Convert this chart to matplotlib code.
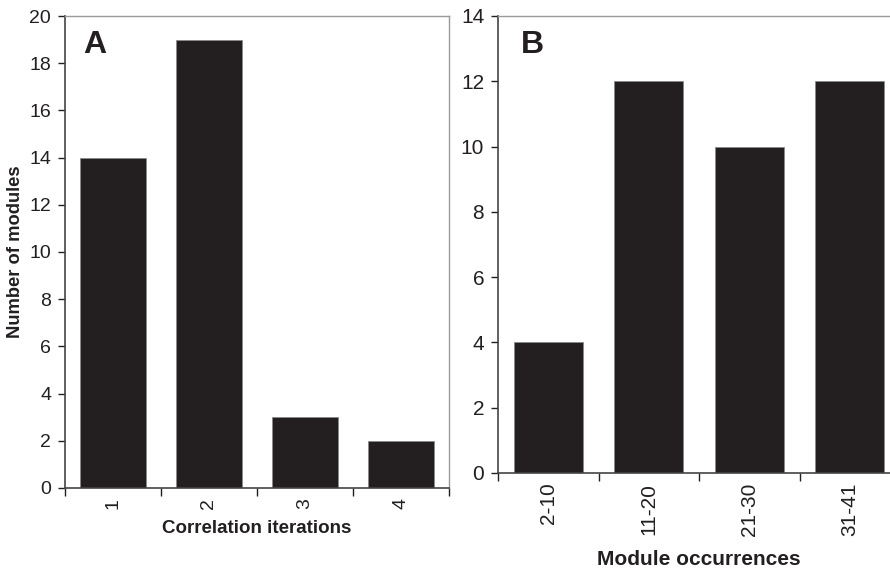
import matplotlib
matplotlib.use('Agg')
import matplotlib.pyplot as plt

plt.rcParams['font.family'] = ['Liberation Sans', 'DejaVu Sans']

# Panel A: modules per correlation iteration
iter_labels = ['1', '2', '3', '4']
iter_counts = [14, 19, 3, 2]

# Panel B: modules per occurrence range
occ_labels = ['2-10', '11-20', '21-30', '31-41']
occ_counts = [4, 12, 10, 12]

bar_col = '#231f20'
dark = '#231f20'
light = '#9a9a9a'

fig = plt.figure(figsize=(8.9, 5.7), dpi=100)
axA = fig.add_axes([0.0730, 0.1439, 0.4315, 0.828])
axB = fig.add_axes([0.5596, 0.1702, 0.4517, 0.8018])


def style_panel(ax, labels, counts, ymax, tick_fs, label_fs, xlabel, letter, xpad, ylabel=None):
    xs = range(len(counts))
    ax.bar(xs, counts, width=0.69, color=bar_col, edgecolor='#8a8a8a', linewidth=0.6, zorder=2)
    ax.set_xlim(-0.5, len(counts) - 0.5)
    ax.set_ylim(0, ymax)
    ax.set_yticks(range(0, ymax + 1, 2))
    # tick marks on category boundaries, labels at centres
    ax.set_xticks([i - 0.5 for i in range(len(counts) + 1)])
    ax.set_xticklabels([])
    ax.set_xticks(list(xs), minor=True)
    ax.set_xticklabels(labels, minor=True, rotation=90, fontsize=tick_fs, color=dark)
    ax.tick_params(axis='x', which='major', direction='out', length=6, width=1, color=dark)
    ax.tick_params(axis='x', which='minor', length=0, pad=7)
    ax.tick_params(axis='y', direction='out', length=5, width=1, color=dark, labelsize=tick_fs,
                   labelcolor=dark, pad=5)
    for s in ('left', 'bottom'):
        ax.spines[s].set_color('#444444')
        ax.spines[s].set_linewidth(1.2)
    for s in ('top', 'right'):
        ax.spines[s].set_color(light)
        ax.spines[s].set_linewidth(1.0)
    ax.set_xlabel(xlabel, fontsize=label_fs, fontweight='bold', color=dark, labelpad=xpad)
    if ylabel:
        ax.set_ylabel(ylabel, fontsize=13.2, fontweight='bold', color=dark, labelpad=4)
    ax.text(0.047, 0.97, letter, transform=ax.transAxes, fontsize=23, fontweight='bold',
            color=dark, ha='left', va='top')


style_panel(axA, iter_labels, iter_counts, 20, 14, 13.5, 'Correlation iterations', 'A', 8,
            ylabel='Number of modules')
style_panel(axB, occ_labels, occ_counts, 14, 15, 15, 'Module occurrences', 'B', 10)
axB.texts[0].set_position((0.057, 0.97))

fig.savefig('out.png', dpi=100)
